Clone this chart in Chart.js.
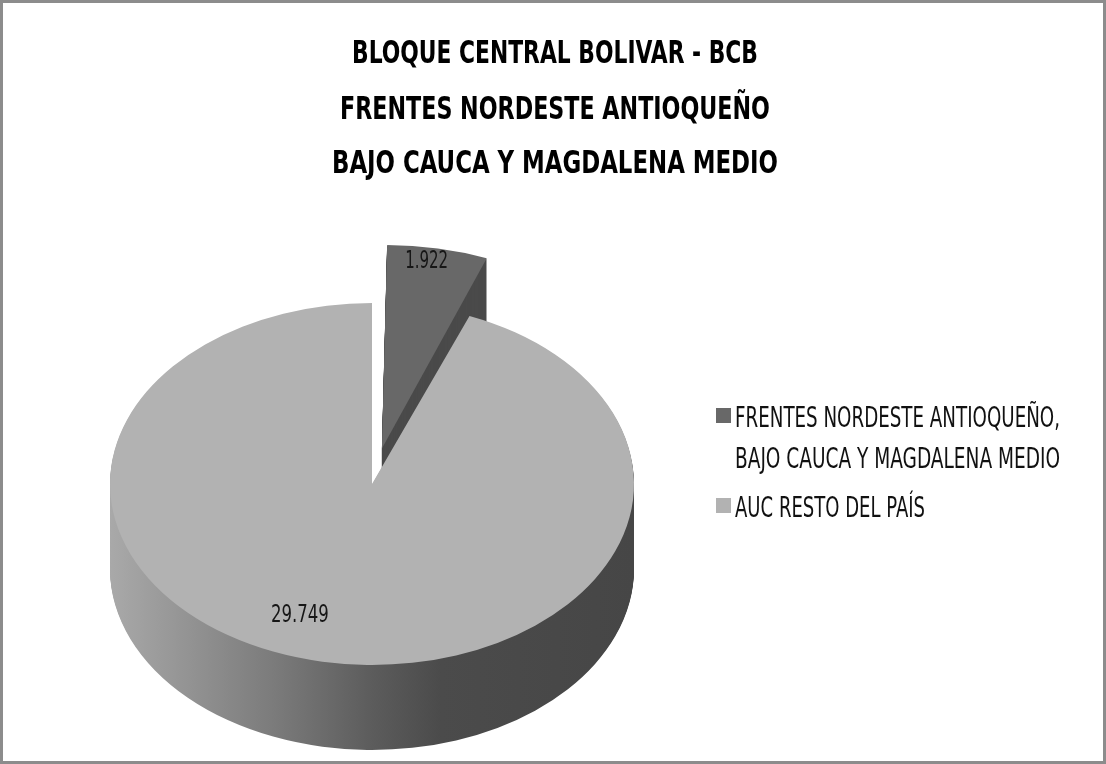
<!DOCTYPE html>
<html>
<head>
<meta charset="utf-8">
<script src="https://cdn.jsdelivr.net/npm/chart.js@4.4.1/dist/chart.umd.min.js"></script>
<style>
  html, body { margin: 0; padding: 0; background: #fff; }
</style>
</head>
<body>
<canvas id="pie" width="1106" height="764"></canvas>
<script>
// chart data
var titleLines = ['BLOQUE CENTRAL BOLIVAR - BCB', 'FRENTES NORDESTE ANTIOQUEÑO', 'BAJO CAUCA Y MAGDALENA MEDIO'];
var categories = [['FRENTES NORDESTE ANTIOQUEÑO,', 'BAJO CAUCA Y MAGDALENA MEDIO'], ['AUC RESTO DEL PAÍS']];
var values = [1922, 29749];

// styles
var faceColors = ['#686868', '#b2b2b2'];
var sideColors = ['#4a4a4a', null];     // null -> shaded gradient
var FONT = "'Liberation Sans Narrow', 'DejaVu Sans Condensed', 'Liberation Sans', sans-serif";
var K = 181 / 262;       // vertical squash of the pie face
var DEPTH = 85;          // thickness of the pie

function fmt(v) {
    return String(v).replace(/\B(?=(\d{3})+(?!\d))/g, '.');
}

function squash(ctx, x, y, dy) {
    ctx.translate(x, y + dy);
    ctx.scale(1, K);
    ctx.translate(-x, -y);
}

// how far chart.js pushes an exploded arc out
function explodeDist(arc) {
    var off = (arc.options.offset || 0) / 4;
    var fix = 1 - Math.sin(Math.min(Math.PI, arc.circumference || 0));
    return off + off * fix;
}

var pie3d = {
    id: 'pie3d',
    beforeDatasetsDraw: function (chart) {
        var ctx = chart.ctx;
        var arcs = chart.getDatasetMeta(0).data;
        var cx = arcs[0].x, cy = arcs[0].y, r = arcs[0].outerRadius;
        var grad = ctx.createLinearGradient(cx - r, 0, cx + r, 0);
        grad.addColorStop(0, '#a9a9a9');
        grad.addColorStop(0.32, '#7a7a7a');
        grad.addColorStop(0.5, '#5c5c5c');
        grad.addColorStop(0.63, '#4b4b4b');
        grad.addColorStop(1, '#464646');
        for (var d = DEPTH; d >= 1; d--) {
            ctx.save();
            squash(ctx, cx, cy, d);
            arcs.forEach(function (arc, i) {
                var side = Object.create(arc);
                side.options = Object.assign({}, arc.options, {backgroundColor: sideColors[i] || grad, borderWidth: 0});
                arc.draw.call(side, ctx);
            });
            ctx.restore();
        }
        ctx.save();
        squash(ctx, cx, cy, 0);
    },
    afterDatasetsDraw: function (chart) {
        var ctx = chart.ctx;
        ctx.restore();
        var arcs = chart.getDatasetMeta(0).data;

        // value labels
        var labelTurn = [-0.03, 0.17];
        var labelReach = [0.92, 0.78];
        var labelWidth = [43, 58];
        ctx.save();
        ctx.fillStyle = '#161616';
        ctx.font = '24px ' + FONT;
        ctx.textAlign = 'center';
        ctx.textBaseline = 'middle';
        arcs.forEach(function (arc, i) {
            var mid = (arc.startAngle + arc.endAngle) / 2;
            var a = mid + labelTurn[i];
            var d = explodeDist(arc);
            var rr = labelReach[i] * arc.outerRadius;
            var px = arc.x + Math.cos(mid) * d + Math.cos(a) * rr;
            var py = arc.y + (Math.sin(mid) * d + Math.sin(a) * rr) * K;
            ctx.fillText(fmt(values[i]), px, py, labelWidth[i]);
        });
        ctx.restore();
    },
    afterDraw: function (chart) {
        var ctx = chart.ctx;
        ctx.save();
        // title
        ctx.fillStyle = '#000';
        ctx.font = 'bold 32px ' + FONT;
        ctx.textAlign = 'center';
        ctx.textBaseline = 'alphabetic';
        var titleBase = [63, 119, 173];
        var titleWidth = [406, 430, 446];
        titleLines.forEach(function (t, i) {
            ctx.fillText(t, 555, titleBase[i], titleWidth[i]);
        });

        // legend
        ctx.font = '28px ' + FONT;
        ctx.textAlign = 'left';
        var legBase = [[427, 468], [517]];
        var legWidth = [[325, 325], [190]];
        categories.forEach(function (lines, i) {
            ctx.fillStyle = faceColors[i];
            ctx.fillRect(716, legBase[i][0] - 19, 15, 15);
            ctx.fillStyle = '#111';
            lines.forEach(function (t, j) {
                ctx.fillText(t, 735, legBase[i][j], legWidth[i][j]);
            });
        });

        // outer frame
        ctx.strokeStyle = '#8c8c8c';
        ctx.lineWidth = 3;
        ctx.strokeRect(1.5, 1.5, chart.width - 3, chart.height - 3);
        ctx.restore();
    }
};

new Chart(document.getElementById('pie').getContext('2d'), {
    type: 'pie',
    data: {
        labels: categories,
        datasets: [{
            data: values,
            backgroundColor: faceColors,
            borderWidth: 0,
            offset: [209, 0],
            hoverOffset: 0,
            radius: 262
        }]
    },
    options: {
        responsive: false,
        animation: false,
        events: [],
        radius: 262,
        layout: { padding: { left: 0, right: 362, top: 204, bottom: 0 } },
        plugins: {
            legend: { display: false },
            title: { display: false },
            tooltip: { enabled: false }
        }
    },
    plugins: [pie3d]
});
</script>
</body>
</html>
